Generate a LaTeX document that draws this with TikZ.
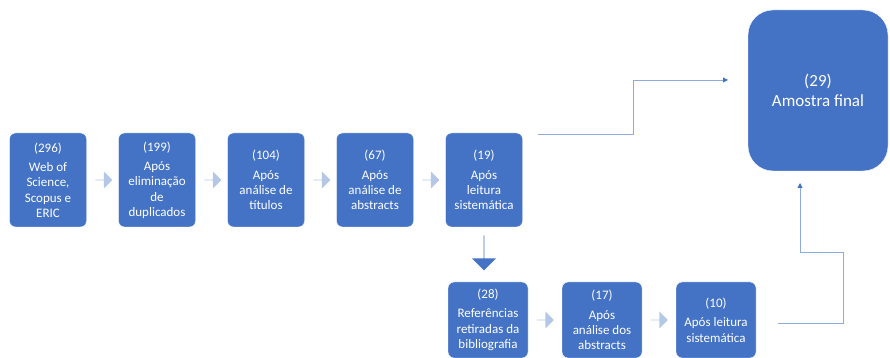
\documentclass[tikz,border=0pt]{standalone}
\usepackage{fontspec}
\setmainfont{Carlito}
\usetikzlibrary{positioning,shapes.arrows,arrows.meta}
\definecolor{azul}{HTML}{4472C4}
\definecolor{azulclaro}{HTML}{B4C7E7}
\definecolor{linha}{HTML}{8FAADC}

\begin{document}
\begin{tikzpicture}[x=1pt, y=1pt, node distance={109pt},
        caixa/.style = {draw=white, thin, fill=azul, text=white, rounded corners=6pt, minimum width=77pt, minimum height=94pt, align=center, inner sep=0pt, font=\fontsize{13}{15.3}\selectfont},
        seta/.style = {single arrow, fill=azulclaro, minimum height=17pt, minimum width=17pt, single arrow head extend=3.5pt, inner sep=0pt},
        conector/.style = {linha, line width=0.9pt, -{Triangle[length=5pt, width=5pt, azul]}}]
        \useasboundingbox (0,0) rectangle (890,358);

        \node[caixa] (w1) at (48,178) {(296)\\[4pt] Web of\\ Science,\\ Scopus e\\ ERIC};
        \node[caixa] (w2) [right of = w1] {(199)\\[4pt] Após\\ eliminação\\ de\\ duplicados};
        \node[caixa] (w3) [right of = w2] {(104)\\[4pt] Após\\ análise de\\ títulos};
        \node[caixa] (w4) [right of = w3] {(67)\\[4pt] Após\\ análise de\\ abstracts};
        \node[caixa] (w5) [right of = w4] {(19)\\[4pt] Após\\ leitura\\ sistemática};

        \node[caixa, minimum width=80pt, minimum height=76pt] (b1) at (488,38) {(28)\\[4pt] Referências\\ retiradas da\\ bibliografia};
        \node[caixa, minimum width=80pt, minimum height=76pt] (b2) [right of = b1, node distance=114pt] {(17)\\[4pt] Após\\ análise dos\\ abstracts};
        \node[caixa, minimum width=80pt, minimum height=76pt] (b3) [right of = b2, node distance=114pt] {(10)\\[4pt] Após leitura\\ sistemática};

        \node[caixa, minimum width=140pt, minimum height=161pt, rounded corners=25pt, font=\fontsize{17}{20}\selectfont] (fim) at (818,267.5) {(29)\\ Amostra final};

        \node[seta, right=8.5pt of w1] (s1) {};
        \node[seta, right=8.5pt of w2] (s2) {};
        \node[seta, right=8.5pt of w3] (s3) {};
        \node[seta, right=8.5pt of w4] (s4) {};
        \node[seta, right=8.5pt of b1] (s6) {};
        \node[seta, right=8.5pt of b2] (s7) {};
        \node[single arrow, shape border rotate=270, fill=azul, minimum height=35pt, minimum width=24pt, single arrow head extend=6.5pt, inner sep=0pt, below=8pt of w5] (desce) {};

        \coordinate (c5) at (538,224);
        \coordinate (e5) at (728,278);
        \draw[conector] (c5) -- (633,224) |- (e5);
        \coordinate (c8) at (778,35);
        \coordinate (e8) at (800,175);
        \draw[conector] (c8) -- (843,35) -- (843,106) -| (e8);
    \end{tikzpicture}
\end{document}
